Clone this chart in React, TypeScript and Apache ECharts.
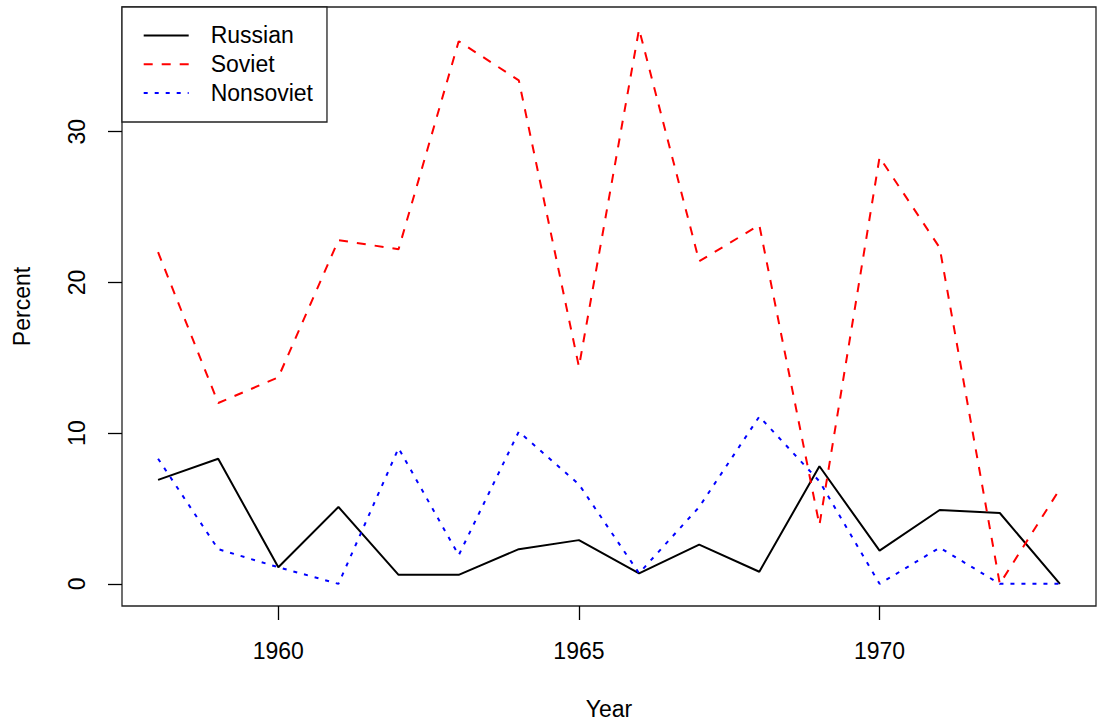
import React, { useEffect, useRef } from "react";
import * as echarts from "echarts";

const years = [1958, 1959, 1960, 1961, 1962, 1963, 1964, 1965, 1966, 1967, 1968, 1969, 1970, 1971, 1972, 1973];
const russian = [6.9, 8.3, 1.1, 5.1, 0.6, 0.6, 2.3, 2.9, 0.7, 2.6, 0.8, 7.8, 2.2, 4.9, 4.7, 0];
const soviet = [22.0, 12.0, 13.7, 22.8, 22.2, 36.0, 33.4, 14.4, 36.8, 21.4, 23.8, 3.9, 28.3, 22.3, 0, 6.3];
const nonsoviet = [8.3, 2.3, 1.1, 0, 9.0, 1.9, 10.1, 6.6, 0.7, 5.1, 11.1, 6.8, 0, 2.4, 0, 0];
const xTicks = [1960, 1965, 1970];
const yTicks = [0, 10, 20, 30];
const seriesNames = ["Russian", "Soviet", "Nonsoviet"];

const FONT = "'Liberation Sans', Arial, sans-serif";
const FS = 23;

export default function App() {
  const ref = useRef<HTMLDivElement>(null);
  useEffect(() => {
    if (!ref.current) return;
    const chart = echarts.init(ref.current, null, { renderer: "svg" });
    const pair = (vals: number[]) => years.map((y, i) => [y, vals[i]]);
    chart.setOption({
      animation: false,
      backgroundColor: "#fff",
      textStyle: { fontFamily: FONT },
      grid: {
        left: 122,
        top: 7,
        right: 1,
        bottom: 118.5,
        show: true,
        borderColor: "#222",
        borderWidth: 1.3,
        backgroundColor: "transparent",
      },
      legend: {
        orient: "vertical",
        left: 122,
        top: 7,
        padding: [14, 14, 14.6, 20.7],
        itemWidth: 45,
        itemHeight: 14,
        itemGap: 0,
        borderColor: "#222",
        borderWidth: 1.3,
        backgroundColor: "#fff",
        data: seriesNames,
        itemStyle: { opacity: 0 },
        textStyle: {
          fontFamily: FONT,
          fontSize: FS,
          color: "#000",
          lineHeight: 28.8,
          padding: [0, 0, 0, 17],
        },
      },
      xAxis: {
        type: "value",
        min: 1957.4,
        max: 1973.6,
        name: "Year",
        nameLocation: "middle",
        nameGap: 91,
        nameTextStyle: { fontFamily: FONT, fontSize: FS, color: "#000" },
        axisLine: { show: false, onZero: false },
        splitLine: { show: false },
        axisTick: {
          show: true,
          inside: false,
          customValues: xTicks,
          length: 14,
          lineStyle: { color: "#000", width: 1.3 },
        },
        axisLabel: {
          customValues: xTicks,
          margin: 33,
          fontFamily: FONT,
          fontSize: FS,
          color: "#000",
          formatter: (v: number) => String(v),
        },
      },
      yAxis: {
        type: "value",
        min: -1.47,
        max: 38.27,
        name: "Percent",
        nameLocation: "middle",
        nameGap: 88.5,
        nameTextStyle: { fontFamily: FONT, fontSize: FS, color: "#000" },
        axisLine: { show: false, onZero: false },
        splitLine: { show: false },
        axisTick: {
          show: true,
          inside: false,
          customValues: yTicks,
          length: 14,
          lineStyle: { color: "#000", width: 1.3 },
        },
        axisLabel: {
          customValues: yTicks,
          rotate: 90,
          margin: 33.5,
          fontFamily: FONT,
          fontSize: FS,
          color: "#000",
          formatter: (v: number) => String(v),
        },
      },
      series: [
        {
          name: seriesNames[0],
          type: "line",
          data: pair(russian),
          symbol: "none",
          showSymbol: false,
          color: "#000000",
          lineStyle: { color: "#000000", width: 2, type: "solid", cap: "butt" },
        },
        {
          name: seriesNames[1],
          type: "line",
          data: pair(soviet),
          symbol: "none",
          showSymbol: false,
          color: "#FF0000",
          lineStyle: { color: "#FF0000", width: 2, type: [9, 9], cap: "butt" },
        },
        {
          name: seriesNames[2],
          type: "line",
          data: pair(nonsoviet),
          symbol: "none",
          showSymbol: false,
          color: "#0000FF",
          lineStyle: { color: "#0000FF", width: 2, type: [4, 7], cap: "butt" },
        },
      ],
    });
    return () => chart.dispose();
  }, []);
  return (
    <div
      ref={ref}
      style={{ position: "absolute", left: 0, top: 0, width: 1097, height: 725, background: "#fff" }}
    />
  );
}
